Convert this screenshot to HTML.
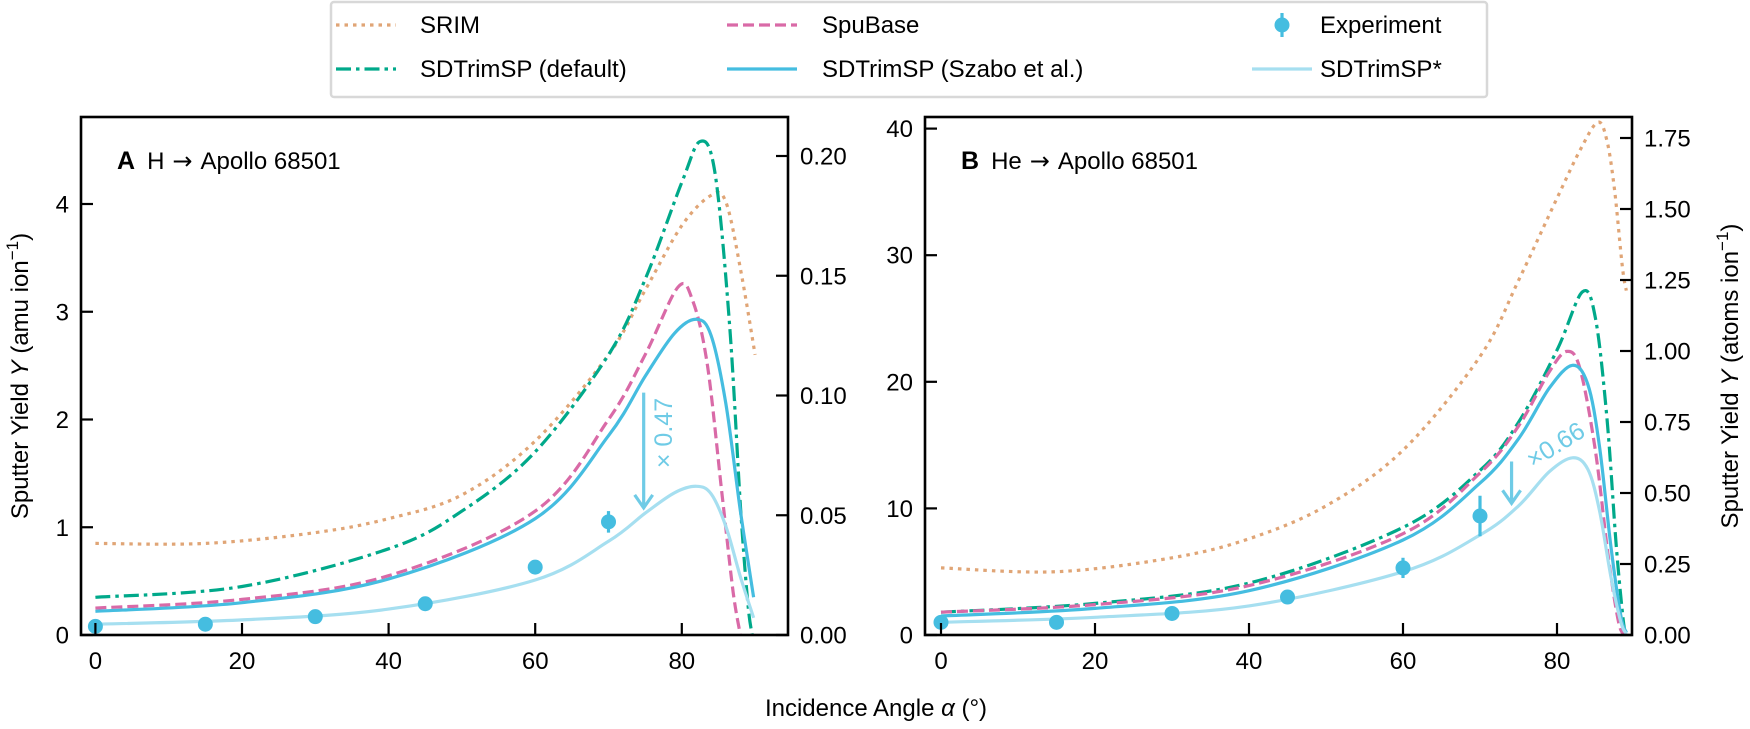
<!DOCTYPE html>
<html><head><meta charset="utf-8"><style>
html,body{margin:0;padding:0;background:#fff;}
svg{display:block;font-family:"Liberation Sans",Arial,sans-serif;}
</style></head><body>
<svg id="s" width="1750" height="729" viewBox="0 0 1750 729" xmlns="http://www.w3.org/2000/svg">
<rect width="1750" height="729" fill="#fff"/>
<rect x="331" y="2" width="1156" height="95" fill="#fff" stroke="#d8d8d8" stroke-width="2.5" rx="3"/>
<g stroke-width="3.2" fill="none">
<line x1="336" y1="25" x2="396" y2="25" stroke="#e0a576" stroke-dasharray="3.5,5"/>
<line x1="336" y1="69" x2="396" y2="69" stroke="#00a98a" stroke-dasharray="15,5,3.5,5"/>
<line x1="727" y1="25" x2="797" y2="25" stroke="#d96aa7" stroke-dasharray="11,5"/>
<line x1="727" y1="69" x2="797" y2="69" stroke="#45bde0"/>
<line x1="1252" y1="69" x2="1312" y2="69" stroke="#a6dff0"/>
<line x1="1282" y1="13" x2="1282" y2="37" stroke="#45bde0"/>
</g>
<circle cx="1282" cy="25" r="7.5" fill="#45bde0"/>
<g font-size="24" fill="#000">
<text x="420" y="33">SRIM</text>
<text x="420" y="77">SDTrimSP (default)</text>
<text x="822" y="33">SpuBase</text>
<text x="822" y="77">SDTrimSP (Szabo et al.)</text>
<text x="1320" y="33">Experiment</text>
<text x="1320" y="77">SDTrimSP*</text>
</g>
<g id="plots"></g>
<text x="876" y="716" font-size="24" text-anchor="middle">Incidence Angle <tspan font-style="italic">α</tspan> (°)</text>
<text transform="translate(28,376) rotate(-90)" font-size="24" text-anchor="middle">Sputter Yield <tspan font-style="italic">Y</tspan> (amu ion<tspan dy="-10" font-size="17">−1</tspan><tspan dy="10">)</tspan></text>
<text transform="translate(1738,376) rotate(-90)" font-size="24" text-anchor="middle">Sputter Yield <tspan font-style="italic">Y</tspan> (atoms ion<tspan dy="-10" font-size="17">−1</tspan><tspan dy="10">)</tspan></text>
</svg>
<script>
(function(){
var NS="http://www.w3.org/2000/svg",G=document.getElementById("plots");
function el(t,a,p){var e=document.createElementNS(NS,t);for(var k in a)e.setAttribute(k,a[k]);(p||G).appendChild(e);return e;}
function txt(x,y,s,a){var e=el("text",Object.assign({x:x,y:y,"font-size":24},a||{}));e.textContent=s;return e;}
function path(pts){
 var d="M"+pts[0][0].toFixed(1)+","+pts[0][1].toFixed(1);
 for(var i=0;i<pts.length-1;i++){var p0=pts[i-1]||pts[i],p1=pts[i],p2=pts[i+1],p3=pts[i+2]||p2;
  var c1=[p1[0]+(p2[0]-p0[0])/6,p1[1]+(p2[1]-p0[1])/6],c2=[p2[0]-(p3[0]-p1[0])/6,p2[1]-(p3[1]-p1[1])/6];
  d+="C"+c1[0].toFixed(1)+","+c1[1].toFixed(1)+" "+c2[0].toFixed(1)+","+c2[1].toFixed(1)+" "+p2[0].toFixed(1)+","+p2[1].toFixed(1);}
 return d;}
function panel(P){
 var X=function(v){return P.x0+v*P.sx},Y=function(v){return 635-v*P.sy};
 var cp="c"+P.id;var cl=el("clipPath",{id:cp});el("rect",{x:P.l,y:117,width:P.r-P.l,height:518},cl);
 var g=el("g",{"clip-path":"url(#"+cp+")"});
 var styles={srim:["#e0a576","3.5,5"],def:["#00a98a","15,5,3.5,5"],spu:["#d96aa7","11,5"],sz:["#45bde0",""],st:["#a6dff0",""]};
 ["srim","def","spu","sz","st"].forEach(function(k){
  var pts=P.d[k].map(function(q){return [X(q[0]),Y(q[1])]});
  var a={d:path(pts),fill:"none",stroke:styles[k][0],"stroke-width":3.2};
  if(styles[k][1])a["stroke-dasharray"]=styles[k][1];
  el("path",a,g);
 });
 P.exp.forEach(function(q){
  if(q[2])el("line",{x1:X(q[0]),x2:X(q[0]),y1:Y(q[1]-q[2]),y2:Y(q[1]+q[2]),stroke:"#45bde0","stroke-width":3.2},g);
  el("circle",{cx:X(q[0]),cy:Y(q[1]),r:7.5,fill:"#45bde0"},g);
 });
 var ax=X(P.arrow[0]),ay1=Y(P.arrow[1]),ay2=Y(P.arrow[2]);
 el("path",{d:"M"+ax+","+ay1+"L"+ax+","+ay2+"M"+(ax-9)+","+(ay2-13)+"L"+ax+","+ay2+"L"+(ax+9)+","+(ay2-13),fill:"none",stroke:"#6fcbe6","stroke-width":3.2});
 txt(P.lab[0],P.lab[1],P.lab[3],{fill:"#6fcbe6","text-anchor":"middle",transform:"rotate("+P.lab[2]+" "+P.lab[0]+" "+P.lab[1]+")","font-size":25});
 el("rect",{x:P.l,y:117,width:P.r-P.l,height:518,fill:"none",stroke:"#000","stroke-width":2.6});
 [0,20,40,60,80].forEach(function(v){var x=X(v);el("line",{x1:x,x2:x,y1:635,y2:623,stroke:"#000","stroke-width":2.2});txt(x,669,String(v),{"text-anchor":"middle"});});
 P.yl.forEach(function(v){var y=Y(v);el("line",{x1:P.l,x2:P.l+12,y1:y,y2:y,stroke:"#000","stroke-width":2.2});txt(P.l-12,y+8.5,String(v),{"text-anchor":"end"});});
 P.yr.forEach(function(v){var y=635-v*P.sr;el("line",{x1:P.r,x2:P.r-12,y1:y,y2:y,stroke:"#000","stroke-width":2.2});txt(P.r+12,y+8.5,v.toFixed(2));});
 var t=txt(P.l+36,169,"");var b=el("tspan",{"font-weight":"bold","font-size":25},t);b.textContent=P.id;
 var r=el("tspan",{dx:12},t);r.textContent=P.title[0];
 var ar=el("tspan",{dx:8,"font-family":"DejaVu Sans, sans-serif","font-size":24},t);ar.textContent="\u2192";
 var r2=el("tspan",{dx:8},t);r2.textContent=P.title[1];
}
panel({id:"A",l:81,r:788,x0:95.4,sx:7.33,sy:107.75,sr:2395,yl:[0,1,2,3,4],yr:[0,0.05,0.1,0.15,0.2],title:["H","Apollo 68501"],
 d:{srim:[[0,0.85],[15,0.85],[30,0.95],[40,1.08],[50,1.3],[60,1.8],[70,2.6],[75,3.2],[80,3.8],[84,4.08],[86,4.02],[88,3.4],[90,2.6]],
 def:[[0,0.35],[20,0.45],[40,0.8],[50,1.15],[60,1.7],[70,2.6],[75,3.3],[80,4.2],[82.5,4.58],[84.5,4.3],[86.5,2.9],[88,1.2],[89,0.3],[89.6,0]],
 spu:[[0,0.25],[20,0.33],[40,0.55],[60,1.15],[70,2.0],[75,2.6],[79.5,3.23],[81.5,3.1],[83.5,2.5],[85.5,1.3],[87,0.4],[88,0]],
 sz:[[0,0.22],[20,0.3],[40,0.52],[60,1.08],[70,1.85],[75,2.4],[79,2.8],[82,2.93],[84,2.78],[86,2.15],[88,1.15],[89.8,0.35]],
 st:[[0,0.1],[20,0.14],[40,0.24],[60,0.51],[70,0.87],[75,1.13],[79,1.32],[82,1.38],[84,1.31],[86,1.01],[88,0.54],[89.8,0.16]]},
 exp:[[0,0.08],[15,0.1],[30,0.17],[45,0.29],[60,0.63],[70,1.05,0.1]],arrow:[74.8,2.25,1.18],lab:[672,433,-90,"\u00d7 0.47"]});
panel({id:"B",l:925,r:1632,x0:941,sx:7.7,sy:12.66,sr:284,yl:[0,10,20,30,40],yr:[0,0.25,0.5,0.75,1,1.25,1.5,1.75],title:["He","Apollo 68501"],
 d:{srim:[[0,5.3],[15,5.0],[30,6.1],[40,7.6],[50,10.2],[60,14.6],[70,22],[75,28],[80,34.5],[83,38.3],[85.3,40.5],[86.5,39],[87.5,35],[88.5,29],[89,27.2]],
 def:[[0,1.8],[20,2.5],[40,4.1],[60,8.5],[70,13],[75,16.8],[80,22.5],[83.3,27.1],[85,25],[86.5,17],[87.7,7],[88.6,1.2],[89,0]],
 spu:[[0,1.8],[20,2.4],[40,3.9],[60,8],[70,12.8],[75,16.5],[79,20.8],[81.3,22.4],[83,21],[85,14.5],[86.7,6],[88,1],[88.8,0]],
 sz:[[0,1.5],[20,2.1],[40,3.5],[60,7.5],[70,12],[75,15.5],[79,19.5],[82,21.3],[84,19.8],[85.5,15],[87,7],[88.3,1.5],[89,0.2]],
 st:[[0,1.0],[20,1.4],[40,2.3],[60,5.0],[70,7.9],[75,10.2],[79,12.9],[82,14.0],[84,13.1],[85.5,9.9],[87,4.6],[88.3,1],[89,0.1]]},
 exp:[[0,1.0],[15,1.0],[30,1.7],[45,3.0],[60,5.3,0.8],[70,9.4,1.6]],arrow:[74.1,13.7,10.4],lab:[1560,452,-32,"\u00d70.66"]});
})();
</script>
</body></html>
